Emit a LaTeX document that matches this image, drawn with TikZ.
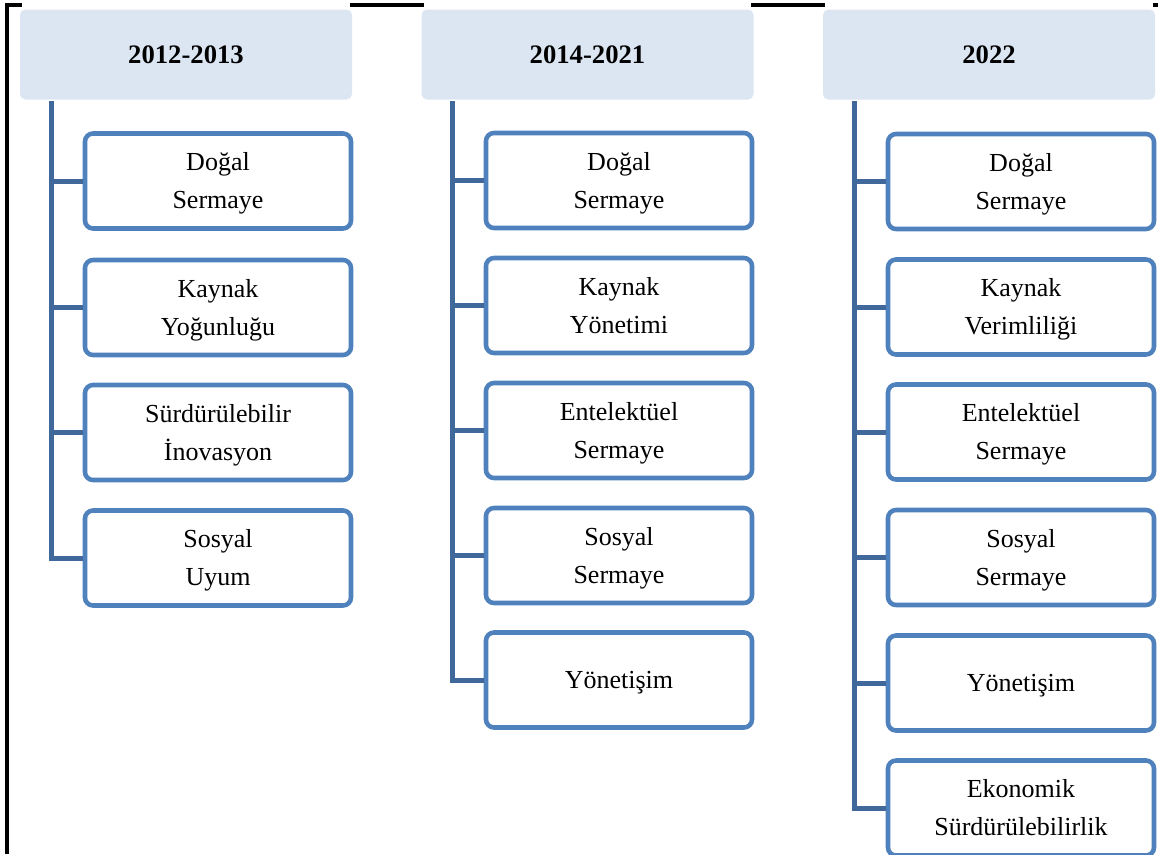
\documentclass[tikz,border=0pt]{standalone}
\usepackage{fontspec}
\setmainfont{Liberation Serif}
\definecolor{hdrfill}{HTML}{DCE6F2}
\definecolor{boxline}{HTML}{4F81BD}
\definecolor{trunkcol}{HTML}{40689A}
\newcommand\tstr{\rule{0pt}{19pt}}
\newcommand\bstr{\rule[-6pt]{0pt}{6pt}}
\newcommand\two[2]{\tstr#1\\#2\bstr}
\newcommand\one[1]{\tstr#1\bstr}
\begin{document}
\begin{tikzpicture}[x=0.75pt,y=-0.75pt,
  hdr/.style={fill=hdrfill, draw=none, rounded corners=4pt, minimum width=249pt, minimum height=67.5pt,
    font=\fontsize{20}{24}\selectfont\bfseries, inner sep=0pt},
  itembox/.style={draw=boxline, fill=white, line width=3.4pt, rounded corners=6pt,
    minimum width=199.5pt, minimum height=71.25pt, align=center, inner sep=0pt,
    font=\fontsize{19.5}{28.5}\selectfont},
  trunk/.style={draw=trunkcol, line width=3.75pt},
  frame/.style={draw=black, line width=2.3pt}]
\useasboundingbox (0,0) rectangle (1161,854);
\begin{scope}
\clip (0,0) rectangle (1161,854);
% headers
\node[hdr] (h1) at (186,54.5) {2012-2013};
\node[hdr] (h2) at (587.5,54.5) {2014-2021};
\node[hdr] (h3) at (989,54.5) {2022};
% frame
\coordinate (ftop) at (7,5);
\coordinate (fbot) at (7,854);
\draw[frame] (fbot) -- (ftop) -- ([xshift=2pt]h1.north west |- ftop);
\draw[frame] ([xshift=-2pt]h1.north east |- ftop) -- ([xshift=2pt]h2.north west |- ftop);
\draw[frame] ([xshift=-2pt]h2.north east |- ftop) -- ([xshift=2pt]h3.north west |- ftop);
\coordinate (fright) at (1158,5);
\draw[frame] ([xshift=-2pt]h3.north east |- ftop) -- (fright);
% column 1
\node[itembox] (a1) at (218,181) {\two{Doğal}{Sermaye}};
\node[itembox] (a2) at (218,307.5) {\two{Kaynak}{Yoğunluğu}};
\node[itembox] (a3) at (218,432.5) {\two{Sürdürülebilir}{İnovasyon}};
\node[itembox] (a4) at (218,558) {\two{Sosyal}{Uyum}};
% column 2
\node[itembox] (b1) at (619,180.5) {\two{Doğal}{Sermaye}};
\node[itembox] (b2) at (619,305.5) {\two{Kaynak}{Yönetimi}};
\node[itembox] (b3) at (619,430.5) {\two{Entelektüel}{Sermaye}};
\node[itembox] (b4) at (619,555.5) {\two{Sosyal}{Sermaye}};
\node[itembox] (b5) at (619,680) {\one{Yönetişim}};
% column 3
\node[itembox] (c1) at (1021,181.5) {\two{Doğal}{Sermaye}};
\node[itembox] (c2) at (1021,307) {\two{Kaynak}{Verimliliği}};
\node[itembox] (c3) at (1021,432) {\two{Entelektüel}{Sermaye}};
\node[itembox] (c4) at (1021,557.5) {\two{Sosyal}{Sermaye}};
\node[itembox] (c5) at (1021,683) {\one{Yönetişim}};
\node[itembox] (c6) at (1021,808) {\two{Ekonomik}{Sürdürülebilirlik}};
% trunks
\coordinate (ta) at (51,101);
\coordinate (tb) at (452,101);
\coordinate (tc) at (854,101);
\draw[trunk] (ta) |- (a4.west);
\foreach \n in {a1,a2,a3} \draw[trunk] (ta |- \n.west) -- (\n.west);
\draw[trunk] (tb) |- (b5.west);
\foreach \n in {b1,b2,b3,b4} \draw[trunk] (tb |- \n.west) -- (\n.west);
\draw[trunk] (tc) |- (c6.west);
\foreach \n in {c1,c2,c3,c4,c5} \draw[trunk] (tc |- \n.west) -- (\n.west);
\end{scope}
\end{tikzpicture}
\end{document}
